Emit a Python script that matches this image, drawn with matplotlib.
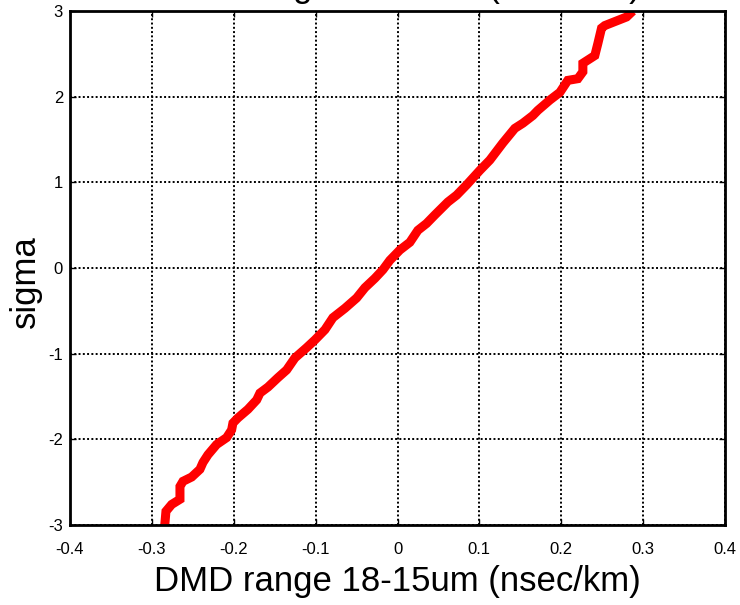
import matplotlib
matplotlib.use("Agg")
import matplotlib.pyplot as plt

plt.rcParams['font.family'] = ['Liberation Sans', 'DejaVu Sans']

dmd = [-0.2850, -0.2828, -0.2758, -0.2657, -0.2657, -0.2620, -0.2514, -0.2413, -0.2376,
       -0.2315, -0.2209, -0.2087, -0.2026, -0.2010, -0.1949, -0.1827, -0.1720, -0.1680,
       -0.1582, -0.1460, -0.1354, -0.1253, -0.1110, -0.1009, -0.0886, -0.0789, -0.0642,
       -0.0499, -0.0398, -0.0276, -0.0178, -0.0093, 0.0029, 0.0151, 0.0249, 0.0355,
       0.0457, 0.0615, 0.0722, 0.0844, 0.1006, 0.1128, 0.1287, 0.1433, 0.1531, 0.1653,
       0.1714, 0.1860, 0.1983, 0.2080, 0.2203, 0.2264, 0.2264, 0.2410, 0.2447, 0.2492,
       0.2532, 0.2797, 0.2874]
sigma = [-3.08, -2.84, -2.76, -2.70, -2.55, -2.49, -2.44, -2.35, -2.27,
         -2.18, -2.06, -1.98, -1.89, -1.81, -1.75, -1.65, -1.54, -1.46,
         -1.39, -1.28, -1.19, -1.05, -0.93, -0.84, -0.72, -0.58, -0.47,
         -0.35, -0.23, -0.12, -0.02, 0.09, 0.21, 0.30, 0.44, 0.52,
         0.62, 0.77, 0.85, 0.97, 1.14, 1.26, 1.46, 1.63, 1.69, 1.78,
         1.84, 1.96, 2.05, 2.19, 2.21, 2.29, 2.39, 2.48, 2.62, 2.80,
         2.83, 2.93, 3.00]

xticks = [-0.4, -0.3, -0.2, -0.1, 0, 0.1, 0.2, 0.3, 0.4]
xticklabels = ['-0.4', '-0.3', '-0.2', '-0.1', '0', '0.1', '0.2', '0.3', '0.4']
yticks = [-3, -2, -1, 0, 1, 2, 3]
yticklabels = ['-3', '-2', '-1', '0', '1', '2', '3']
title = 'DMD range 18-15um (nsec/km)'
xlabel = 'DMD range 18-15um (nsec/km)'
ylabel = 'sigma'

L, R, B, T = 70 / 740, 725 / 740, 1 - 525 / 605, 1 - 11 / 605
fig = plt.figure(figsize=(7.4, 6.05), dpi=100)
ax = fig.add_axes([L, B, R - L, T - B])

ax.plot(dmd, sigma, color='#ff0000', lw=6.5, solid_joinstyle='miter', solid_capstyle='butt')

ax.set_xlim(-0.4, 0.4)
ax.set_ylim(-3, 3)
ax.set_xticks(xticks)
ax.set_xticklabels(xticklabels)
ax.set_yticks(yticks)
ax.set_yticklabels(yticklabels)
ax.grid(True, color='black', linestyle=(0, (1, 1.2)), linewidth=1.4)
ax.tick_params(direction='in', length=4, width=1, labelsize=12, top=True, right=True, colors='black')
ax.tick_params(axis='x', pad=12)
ax.tick_params(axis='y', pad=5)
for s in ax.spines.values():
    s.set_linewidth(2)
    s.set_color('black')

ax.set_xlabel(xlabel, fontsize=25, labelpad=6)
ylab = ax.set_ylabel(ylabel, fontsize=25)
ylab.set_verticalalignment('center')
ax.yaxis.set_label_coords(25 / 740, 1 - 281.5 / 605, transform=fig.transFigure)

fig.text((L + R) / 2, 1 + 3 / 605, title, fontsize=25, ha='center', va='baseline')

fig.savefig('out.png', dpi=100)
